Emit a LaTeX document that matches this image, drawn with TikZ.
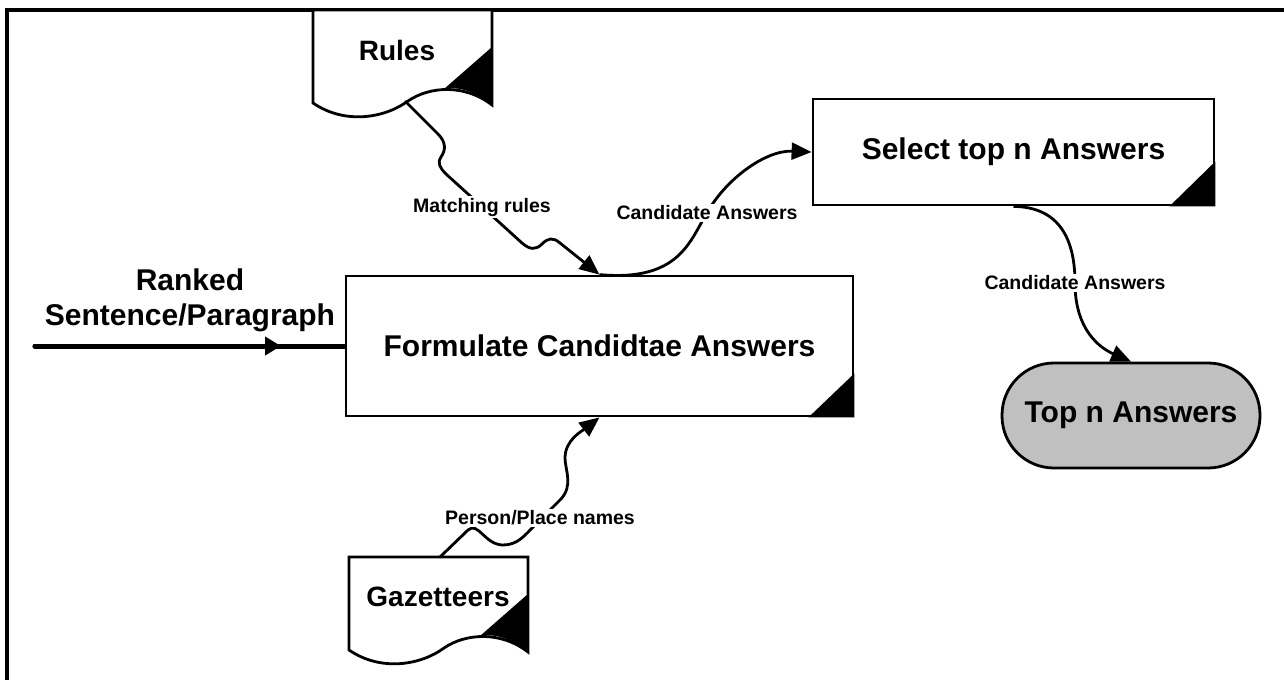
\documentclass[tikz,border=0pt]{standalone}
\usepackage{fontspec}
\setmainfont{Liberation Sans}
\usetikzlibrary{arrows.meta}
\definecolor{termgray}{HTML}{C0C0C0}
\begin{document}
\begin{tikzpicture}[x=1pt,y=-1pt,
  proc/.style={draw, line width=2.8pt, fill=white, inner sep=0pt,
    font=\fontsize{30}{36}\selectfont\bfseries},
  term/.style={draw, line width=2.8pt, fill=termgray, inner sep=0pt,
    rounded corners=52pt, font=\fontsize{30}{36}\selectfont\bfseries},
  doctext/.style={inner sep=0pt, font=\fontsize{28}{34}\selectfont\bfseries},
  docshape/.style={draw, line width=2.8pt, fill=white},
  conn/.style={draw, line width=2.8pt, -{Triangle[length=20pt,width=17pt]}},
  flowlabel/.style={fill=white, inner sep=1.5pt, font=\fontsize{19.5}{23}\selectfont\bfseries},
  biglabel/.style={inner sep=0pt, align=center, font=\fontsize{30}{35}\selectfont\bfseries}]
\useasboundingbox (0,0) rectangle (1284,680);
\fill[white] (0,0) rectangle (1284,680);
% frame
\draw[line width=3.5pt] (1284,10) -- (7,10) -- (7,680);

% Rules document
\begin{scope}[shift={(313,10)}]
  \draw[docshape] (0,0) -- (0,93) .. controls (32,115) and (72,108) .. (95,91)
     .. controls (117,76) and (152,74) .. (179,95) -- (179,0) -- cycle;
  \fill (179,37) -- (179,95) .. controls (157,78) and (142,77) .. (131,79) -- cycle;
\end{scope}
\node[doctext] (rules) at (397,50) {Rules};
\coordinate (rulesout) at (405,101);

% Gazetteers document
\begin{scope}[shift={(349,557)}]
  \draw[docshape] (0,0) -- (0,93) .. controls (32,115) and (72,108) .. (95,91)
     .. controls (117,76) and (152,74) .. (179,95) -- (179,0) -- cycle;
  \fill (179,37) -- (179,95) .. controls (157,78) and (142,77) .. (131,79) -- cycle;
\end{scope}
\node[doctext] (gaz) at (438,597) {Gazetteers};
\coordinate (gazin) at (440,557);

% process boxes
\node[proc, minimum width=507pt, minimum height=140pt] (form) at (599.5,346) {Formulate Candidtae Answers};
\fill (form.south east) -- ++(0,-44) -- ++(-46,44) -- cycle;
\node[proc, minimum width=401pt, minimum height=106pt] (sel) at (1013.5,152) {Select top n Answers};
\fill (sel.south east) -- ++(0,-45) -- ++(-46,45) -- cycle;
\node[term, minimum width=258pt, minimum height=105pt] (top) at (1131,415.5) {Top n Answers};

% ranked input
\node[biglabel] (ranked) at (190,300) {Ranked\\Sentence/Paragraph};
\coordinate (rstart) at (35,346);
\coordinate (rmid) at (281,346);
\draw[line width=5pt, line cap=round] (rstart) -- (form.west);
\draw[line width=5pt, line cap=round, -{Triangle[length=16pt,width=18pt]}] (rstart) -- (rmid);

% Matching rules
\draw[conn] (rulesout) -- (438,134) .. controls (446,142) and (446,150) .. (441,157)
   .. controls (437,163) and (440,168) .. (446,174) -- (522,243)
   .. controls (530,250) and (536,250) .. (542,244)
   .. controls (548,238) and (553,237) .. (560,243) -- (form.north);
\node[flowlabel] (lmatch) at (482,207) {Matching rules};

% Candidate Answers to Select
\draw[conn] (form.north) .. controls (680,282) and (690,240) .. (707,213)
   .. controls (725,180) and (765,150) .. (sel.west);
\node[flowlabel] (lcand1) at (707,213) {Candidate Answers};

% Select to Top n
\draw[conn] (sel.south) .. controls (1060,207) and (1075,240) .. (1075,283)
   .. controls (1075,330) and (1100,348) .. (top.north);
\node[flowlabel] (lcand2) at (1075,283) {Candidate Answers};

% Gazetteers to Formulate
\draw[conn] (gazin) -- (468,530) .. controls (478,521) and (485,545) .. (503,545)
   .. controls (518,545) and (525,535) .. (535,525) -- (560,500)
   .. controls (574,486) and (565,470) .. (565,458)
   .. controls (565,440) and (582,431) .. (form.south);
\node[flowlabel] (lperson) at (540,518) {Person/Place names};
\end{tikzpicture}
\end{document}
